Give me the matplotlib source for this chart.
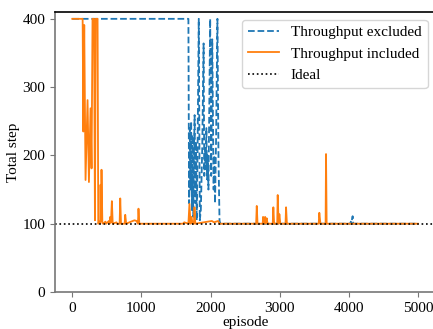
import numpy as np
import matplotlib
matplotlib.use("Agg")
import matplotlib.pyplot as plt

plt.rcParams['font.family'] = ['Liberation Serif', 'DejaVu Serif']
plt.rcParams['font.size'] = 11

# episodes / total steps
excl_ep = [0, 1680, 1690, 1700, 1710, 1720, 1730, 1740, 1750, 1760, 1770, 1780, 1790,
           1800, 1810, 1830, 1845, 1860, 1880, 1900, 1910, 1920, 1930, 1940, 1950,
           1960, 1970, 1985, 1995, 2010, 2025, 2035, 2045, 2055, 2065, 2080, 2100,
           2115, 2130, 2140, 4020, 4030, 4040, 4045, 4056, 4065, 5000]
excl_step = [400, 400, 130, 240, 150, 250, 120, 230, 110, 200, 259, 130, 220,
             105, 180, 400, 105, 120, 210, 364, 170, 210, 180, 240, 165,
             200, 150, 300, 400, 170, 370, 260, 150, 200, 130, 220, 400,
             200, 105, 100, 100, 103, 100, 105, 111, 100, 100]

incl_ep = [0, 150, 160, 173, 192, 221, 241, 264, 279, 293, 315, 328, 340, 366, 376,
           395, 405, 409, 416, 423, 435, 445, 480, 490, 530, 540, 549, 560, 573, 585,
           640, 650, 685, 694, 705, 758, 766, 780, 850, 900, 930, 950, 958, 970,
           1600, 1620, 1680, 1695, 1710, 1725, 1740, 1760, 1768, 1780, 2020, 2050,
           2110, 2130, 2660, 2669, 2680, 2755, 2760, 2775, 2790, 2800, 2813, 2825,
           2900, 2909, 2920, 2965, 2972, 2985, 2996, 3010, 3085, 3093, 3105, 3565,
           3574, 3590, 3665, 3671, 3680, 5000]
incl_step = [400, 400, 235, 391, 164, 281, 161, 269, 181, 400, 400, 105, 400, 400, 100,
             103, 100, 157, 104, 179, 102, 100, 103, 100, 104, 100, 110, 102, 133, 100,
             102, 100, 100, 137, 100, 100, 113, 100, 103, 105, 104, 100, 122, 100,
             100, 102, 100, 129, 100, 110, 100, 100, 124, 100, 104, 102,
             104, 100, 100, 126, 100, 100, 110, 100, 110, 100, 108, 100,
             100, 124, 100, 100, 142, 100, 114, 100, 100, 124, 100, 100,
             116, 100, 100, 202, 100, 100]

ideal = 100

fig = plt.figure(figsize=(4.33, 3.29), dpi=100)
ax = fig.add_axes([0.127, 0.1125, 0.878, 0.851])

ax.plot(excl_ep, excl_step, '--', color='#1f77b4', lw=1.3, label='Throughput excluded')
ax.plot(incl_ep, incl_step, '-', color='#ff7f0e', lw=1.3, label='Throughput included')
ax.axhline(ideal, color='black', ls=':', lw=1.2, label='Ideal')

ax.set_xlim(-250, 5250)
ax.set_ylim(0, 410)
ax.set_xticks([0, 1000, 2000, 3000, 4000, 5000])
ax.set_yticks([0, 100, 200, 300, 400])
ax.set_xlabel('episode', labelpad=1)
ax.set_ylabel('Total step', labelpad=2)

for s in ['left', 'bottom']:
    ax.spines[s].set_color('#777777')
    ax.spines[s].set_linewidth(1.2)
ax.spines['top'].set_linewidth(1.2)
ax.tick_params(colors='#777777', labelcolor='black')

ax.legend(loc='upper right')

fig.savefig('out.png', dpi=100)
